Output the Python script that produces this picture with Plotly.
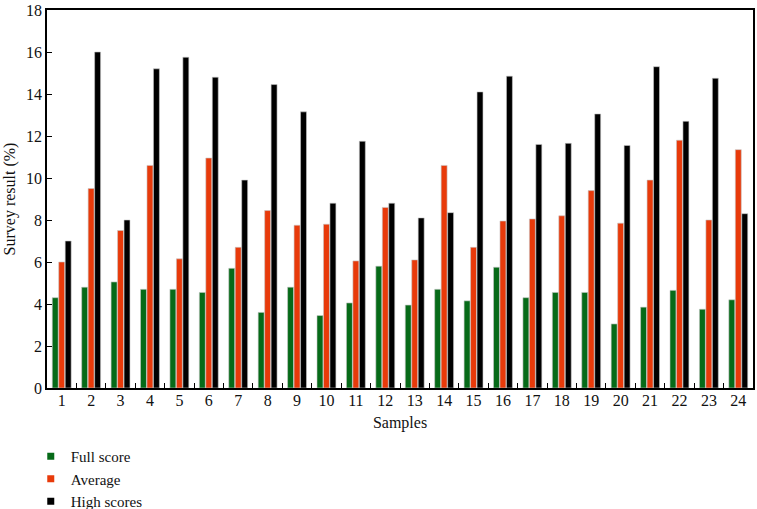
import plotly.graph_objects as go

samples = [str(i) for i in range(1, 25)]
full_score = [4.3, 4.8, 5.05, 4.7, 4.7, 4.55, 5.7, 3.6, 4.8, 3.45, 4.05, 5.8,
              3.95, 4.7, 4.15, 5.75, 4.3, 4.55, 4.55, 3.05, 3.85, 4.65, 3.75, 4.2]
average = [6.0, 9.5, 7.5, 10.6, 6.15, 10.95, 6.7, 8.45, 7.75, 7.8, 6.05, 8.6,
           6.1, 10.6, 6.7, 7.95, 8.05, 8.2, 9.4, 7.85, 9.9, 11.8, 8.0, 11.35]
high_scores = [7.0, 16.0, 8.0, 15.2, 15.75, 14.8, 9.9, 14.45, 13.15, 8.8, 11.75, 8.8,
               8.1, 8.35, 14.1, 14.85, 11.6, 11.65, 13.05, 11.55, 15.3, 12.7, 14.75, 8.3]
y_ticks = [0, 2, 4, 6, 8, 10, 12, 14, 16, 18]

series = [("Full score", full_score, "#066a18"),
          ("Average", average, "#e83a0a"),
          ("High scores", high_scores, "#000000")]

FONT = "Liberation Serif, Times New Roman, serif"
FS = 16

fig = go.Figure()
for name, vals, col in series:
    fig.add_trace(go.Bar(x=samples, y=vals, name=name, showlegend=False,
                         marker=dict(color=col, line=dict(color="#c8c8c8", width=0.6))))
for name, vals, col in series:
    fig.add_trace(go.Scatter(x=[None], y=[None], mode="markers", name=name,
                             marker=dict(symbol="square", size=7, color=col)))

fig.update_layout(
    width=757, height=509,
    margin=dict(l=47, r=2, t=6, b=121),
    paper_bgcolor="white", plot_bgcolor="white",
    barmode="group", bargap=0.34, bargroupgap=0.08,
    font=dict(family=FONT, size=FS, color="#111111"),
    legend=dict(orientation="v", xref="paper", yref="container",
                x=-0.023, xanchor="left", y=0.1356, yanchor="top",
                font=dict(family=FONT, size=15), itemwidth=30, tracegroupgap=0,
                bgcolor="rgba(0,0,0,0)"),
    xaxis=dict(showline=True, linecolor="black", linewidth=1.5, mirror=True,
               ticks="inside", tickson="boundaries", ticklen=5, tickcolor="black",
               tickfont=dict(family=FONT, size=FS), tickangle=0, ticklabelstandoff=-3,
               title=dict(text="Samples", font=dict(family=FONT, size=FS), standoff=9),
               showgrid=False),
    yaxis=dict(range=[0, 18.0001], tickvals=y_ticks, showline=True, linecolor="black",
               linewidth=1.5, mirror=True, ticks="inside", ticklen=5, tickcolor="black",
               showgrid=False, zeroline=False, ticklabeloverflow="allow",
               tickfont=dict(family=FONT, size=FS),
               title=dict(text="Survey result (%)", font=dict(family=FONT, size=FS), standoff=6)),
)

fig.write_html("out.html", config={"displayModeBar": False},
               post_script="document.body.style.margin='0';document.body.style.overflow='hidden';")
